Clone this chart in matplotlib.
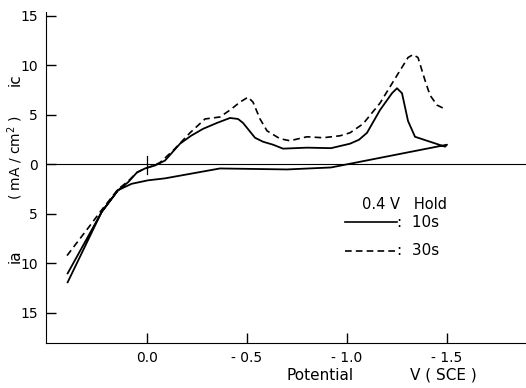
import matplotlib.pyplot as plt

# potential (V vs SCE) and current density (mA/cm2, cathodic positive)
solid_10s_v = [0.397, 0.227, 0.145, 0.095, 0.05, 0.01, -0.04, -0.09, -0.165,
               -0.22, -0.28, -0.35, -0.415, -0.455, -0.48, -0.50, -0.54, -0.58,
               -0.63, -0.68, -0.80, -0.92, -1.015, -1.06, -1.10, -1.165, -1.225,
               -1.25, -1.275, -1.29, -1.305, -1.34, -1.415, -1.49, -1.50, -0.92,
               -0.70, -0.365, -0.09, -0.005, 0.077, 0.145, 0.227, 0.397]
solid_10s_i = [-11.9, -4.8, -2.6, -1.8, -0.8, -0.4, -0.1, 0.4, 2.1,
               2.9, 3.6, 4.2, 4.7, 4.6, 4.2, 3.7, 2.7, 2.3,
               2.0, 1.6, 1.7, 1.65, 2.1, 2.5, 3.2, 5.5, 7.2,
               7.7, 7.2, 5.8, 4.4, 2.8, 2.3, 1.8, 2.0, -0.3,
               -0.5, -0.4, -1.4, -1.6, -1.95, -2.6, -4.8, -11.0]

dash_30s_v = [0.40, 0.29, 0.227, 0.145, 0.095, 0.05, 0.01, -0.04, -0.065, -0.13,
              -0.215, -0.29, -0.365, -0.415, -0.465, -0.505, -0.53, -0.565, -0.60,
              -0.665, -0.715, -0.80, -0.88, -0.965, -1.015, -1.08, -1.165, -1.25,
              -1.305, -1.33, -1.355, -1.39, -1.415, -1.45, -1.49]
dash_30s_i = [-9.2, -6.3, -4.6, -2.5, -1.7, -0.8, -0.4, -0.05, 0.2, 1.4,
              3.2, 4.6, 4.8, 5.5, 6.3, 6.8, 6.3, 4.6, 3.4,
              2.6, 2.4, 2.8, 2.7, 2.9, 3.2, 4.1, 6.2, 9.0,
              10.8, 11.1, 10.8, 8.5, 7.0, 6.0, 5.6]

x_ticks = [0.0, -0.5, -1.0, -1.5]
x_labels = ["0.0", "- 0.5", "- 1.0", "- 1.5"]
y_ticks = [15, 10, 5, 0, -5, -10, -15]
y_labels = ["15", "10", "5", "0", "5", "10", "15"]

fig = plt.figure(figsize=(5.26, 3.88), dpi=100)
ax = fig.add_axes([0.0875, 0.116, 0.9125, 0.853])

ax.plot(solid_10s_v, solid_10s_i, color="black", lw=1.3)
ax.plot(dash_30s_v, dash_30s_i, color="black", lw=1.2, ls=(0, (4, 2.5)))

# zero current line and marker at 0 V
ax.axhline(0, color="black", lw=0.8)
ax.plot([0, 0], [-1.0, 0.9], color="black", lw=0.9)

ax.set_xlim(0.505, -1.895)
ax.set_ylim(-18.03, 15.4)

ax.spines["top"].set_visible(False)
ax.spines["right"].set_visible(False)
ax.set_xticks(x_ticks)
ax.set_xticklabels(x_labels)
ax.set_yticks(y_ticks)
ax.set_yticklabels(y_labels)
ax.tick_params(direction="in", length=7, width=1, labelsize=10, pad=6)

# axis labels
fig.text(0.608, 0.033, "Potential", ha="center", va="center", fontsize=11)
fig.text(0.842, 0.033, "V ( SCE )", ha="center", va="center", fontsize=11)
fig.text(0.029, 0.795, "ic", rotation=90, ha="center", va="center", fontsize=11)
fig.text(0.029, 0.595, "( mA / cm$^2$ )", rotation=90, ha="center", va="center", fontsize=10)
fig.text(0.029, 0.34, "ia", rotation=90, ha="center", va="center", fontsize=11)

# legend drawn as in the original
ax.text(-1.075, -4.0, "0.4 V   Hold", fontsize=10.5, va="center")
ax.plot([-0.99, -1.25], [-5.85, -5.85], color="black", lw=1.2)
ax.text(-1.25, -5.85, ":  10s", fontsize=11, va="center")
ax.plot([-0.99, -1.25], [-8.7, -8.7], color="black", lw=1.2, ls=(0, (4, 2.5)))
ax.text(-1.25, -8.7, ":  30s", fontsize=11, va="center")

plt.savefig("out.png", dpi=100)
